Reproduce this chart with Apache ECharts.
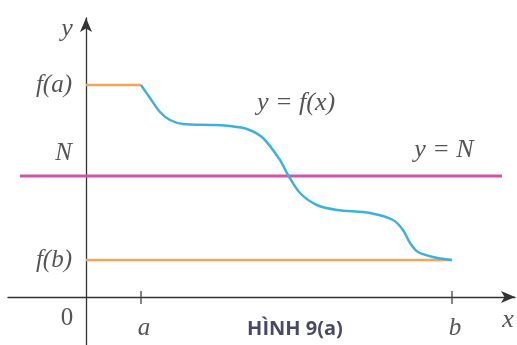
<!DOCTYPE html>
<html>
<head>
<meta charset="utf-8">
<script src="https://cdn.jsdelivr.net/npm/echarts@6/dist/echarts.min.js"></script>
<style>html,body{margin:0;padding:0;background:#fff}#c{width:517px;height:345px}</style>
</head>
<body>
<div id="c"></div>
<script>
// key abscissas / ordinates (arbitrary units, origin at the axes' crossing)
const xA = 55, xB = 366;
const fA = 212, fB = 37, N = 121;
const nLineX = [-66, 416];
// curve y = f(x)
const curveX = [55, 64, 74, 84, 97, 127, 144, 161, 177, 194, 202, 214, 231, 251, 284, 307, 317, 324, 332, 347, 366];
const curveY = [212, 199, 185, 177, 173, 172, 171, 168, 159, 137, 122, 104, 92, 87, 84, 77, 67, 54, 45, 40, 37];
// tick labels
const xTickValues = [xA, xB];
const xTickNames = ['a', 'b'];
const yTickValues = [fA, fB];
const yTickNames = ['f(a)', 'f(b)'];
const nLabel = 'N';
// italic annotations
const annText = ['y', 'x', 'y = f(x)', 'y = N'];
const annX = [-19, 422, 210, 358];
const annY = [268, -23, 194, 147];
// origin label
const originText = '0';
const originAt = [-19, -21];
const caption = 'HÌNH 9(a)';
const captionAt = [209, -32];

const serif = 'Liberation Serif';
const ink = '#2b2b2b';

const chart = echarts.init(document.getElementById('c'), null, {renderer: 'canvas'});
const curve = curveX.map((x, i) => [x, curveY[i]]);
const tickSeries = xTickValues.map(v => ({
  type: 'line', data: [[v, -7], [v, 6]], showSymbol: false, silent: true,
  lineStyle: {color: '#444', width: 1.3}, z: 5
}));
const italicLabel = {show: true, formatter: p => p.name,
  fontFamily: serif, fontStyle: 'italic', fontSize: 25, color: ink};
chart.setOption({
  animation: false,
  grid: {left: 8, right: 2, top: 18, bottom: 0, containLabel: false, outerBoundsMode: 'none'},
  xAxis: {
    type: 'value', min: -78, max: 429,
    splitLine: {show: false},
    axisLine: {onZero: true, symbol: ['none', 'arrow'], symbolSize: [9, 14], lineStyle: {color: '#333', width: 1.3}},
    axisTick: {show: false},
    axisLabel: {show: false}
  },
  yAxis: {
    type: 'value', min: -48, max: 279,
    splitLine: {show: false},
    axisLine: {onZero: true, symbol: ['none', 'arrow'], symbolSize: [9, 14], lineStyle: {color: '#333', width: 1.3}},
    axisTick: {show: false},
    axisLabel: {show: false}
  },
  series: [
    {type: 'line', data: [[nLineX[0], N], [nLineX[1], N]], showSymbol: false, lineStyle: {color: '#D254A8', width: 3}, z: 3},
    {type: 'line', data: [[0, fA], [xA, fA]], showSymbol: false, lineStyle: {color: '#F2A65A', width: 2.5}, z: 3},
    {type: 'line', data: [[0, fB], [xB, fB]], showSymbol: false, lineStyle: {color: '#F2A65A', width: 2.5}, z: 3},
    {type: 'line', data: curve, showSymbol: false, smooth: 0.3, lineStyle: {color: '#3DB2DE', width: 2.5}, z: 4},
    ...tickSeries,
    {
      type: 'scatter', symbolSize: 0, silent: true, z: 6,
      data: xTickValues.map((v, i) => ({value: [v, 0], name: xTickNames[i]})),
      label: Object.assign({}, italicLabel, {position: 'bottom', distance: 19, offset: [3, 0]})
    },
    {
      type: 'scatter', symbolSize: 0, silent: true, z: 6,
      data: yTickValues.map((v, i) => ({value: [0, v], name: yTickNames[i]}))
        .concat([{value: [0, N], name: nLabel, label: {offset: [0, -23]}}]),
      label: Object.assign({}, italicLabel, {position: 'left', distance: 14})
    },
    {
      type: 'scatter', symbolSize: 0, silent: true, z: 6,
      data: annText.map((t, i) => ({value: [annX[i], annY[i]], name: t})),
      label: Object.assign({}, italicLabel, {position: 'inside', fontSize: 26})
    },
    {
      type: 'scatter', symbolSize: 0, silent: true, z: 6,
      data: [{value: originAt, name: originText}],
      label: {show: true, position: 'inside', formatter: p => p.name,
        fontFamily: serif, fontSize: 25, color: ink}
    },
    {
      type: 'scatter', symbolSize: 0, silent: true, z: 6,
      data: [{value: captionAt, name: caption}],
      label: {show: true, position: 'inside', formatter: p => p.name,
        fontFamily: 'Open Sans', fontWeight: 'bold', fontSize: 20, color: '#1c1c3a'}
    }
  ]
});
</script>
</body>
</html>
